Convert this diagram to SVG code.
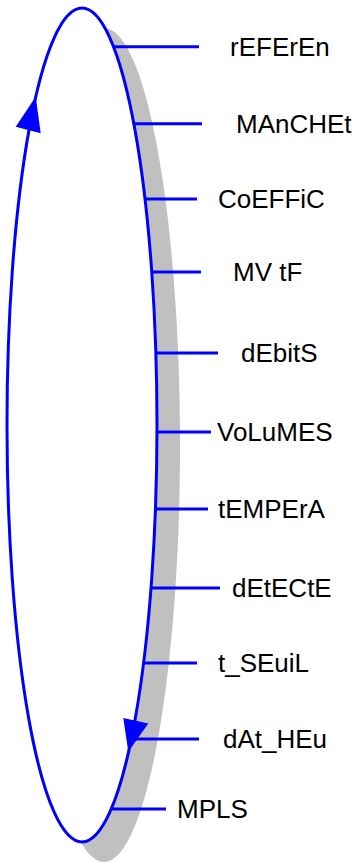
<svg xmlns="http://www.w3.org/2000/svg" width="358" height="863" viewBox="0 0 358 863">
<style>
.lbl{font-family:"Liberation Sans",Arial,sans-serif;font-size:26px;fill:#000}
.ln{stroke:#0000ff;stroke-width:3;fill:none}
.arr{fill:#0000ff;stroke:none}
</style>
<rect width="358" height="863" fill="#fff"/>
<g id="cycle">
<ellipse cx="104" cy="445" rx="76" ry="417" fill="#c0c0c0"/>
<ellipse cx="82" cy="425" rx="75" ry="417" fill="#fff" stroke="#0000ff" stroke-width="3"/>
<polygon class="arr" points="35.7,96.7 15.7,126.7 40.7,133.3"/>
<polygon class="arr" points="128.3,751.7 123.3,718 148.3,723.5"/>
</g>
<g id="connectors">
<line class="ln" x1="113" y1="46.7" x2="199" y2="46.7"/>
<line class="ln" x1="134" y1="123.7" x2="202" y2="123.7"/>
<line class="ln" x1="145" y1="199" x2="197" y2="199"/>
<line class="ln" x1="151.5" y1="272" x2="201" y2="272"/>
<line class="ln" x1="155.5" y1="353" x2="218" y2="353"/>
<line class="ln" x1="156.5" y1="432" x2="211" y2="432"/>
<line class="ln" x1="155" y1="509" x2="208" y2="509"/>
<line class="ln" x1="150.5" y1="588" x2="220" y2="588"/>
<line class="ln" x1="143" y1="663" x2="197" y2="663"/>
<line class="ln" x1="131" y1="739" x2="199" y2="739"/>
<line class="ln" x1="111" y1="809" x2="166" y2="809"/>
</g>
<g id="n1"><text class="lbl" x="230" y="55.5">rEFErEn</text></g>
<g id="n2"><text class="lbl" x="236" y="132.5">MAnCHEt</text></g>
<g id="n3"><text class="lbl" x="218" y="207.5">CoEFFiC</text></g>
<g id="n4"><text class="lbl" x="233" y="280.5">MV tF</text></g>
<g id="n5"><text class="lbl" x="241" y="361.5">dEbitS</text></g>
<g id="n6"><text class="lbl" x="217" y="440.5">VoLuMES</text></g>
<g id="n7"><text class="lbl" x="218" y="517.5">tEMPErA</text></g>
<g id="n8"><text class="lbl" x="232" y="596.5">dEtECtE</text></g>
<g id="n9"><text class="lbl" x="218" y="671.5">t_SEuiL</text></g>
<g id="n10"><text class="lbl" x="223" y="747.5">dAt_HEu</text></g>
<g id="n11"><text class="lbl" x="177" y="817.5">MPLS</text></g>
</svg>
